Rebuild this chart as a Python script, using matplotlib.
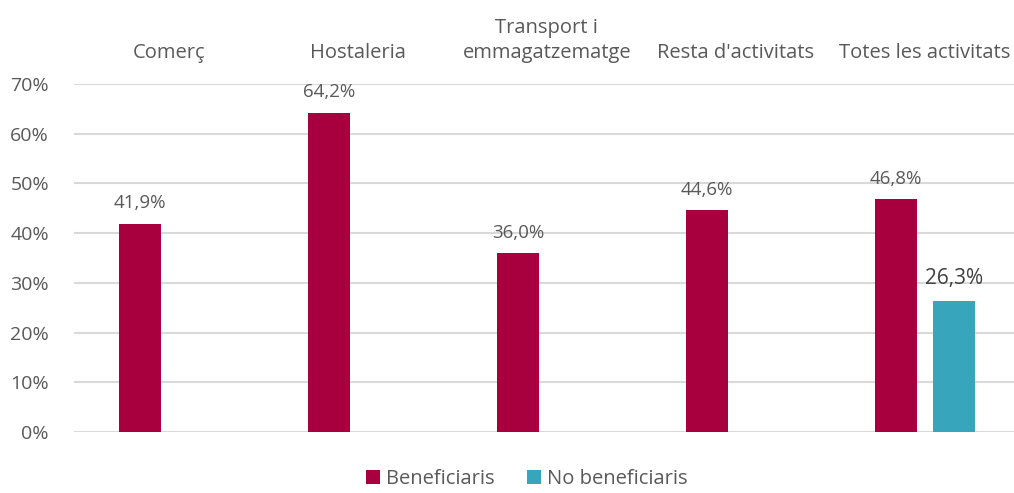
import numpy as np
import matplotlib.pyplot as plt

# Data
categories = ["Comerç", "Hostaleria", "Transport i\nemmagatzematge",
              "Resta d'activitats", "Totes les activitats"]
beneficiaris = [41.9, 64.2, 36.0, 44.6, 46.8]
no_beneficiaris = [np.nan, np.nan, np.nan, np.nan, 26.3]
yticks = [0, 10, 20, 30, 40, 50, 60, 70]

RED = '#A8003F'
TEAL = '#37A6BC'
GREY = '#595959'

plt.rcParams['font.family'] = ['Open Sans', 'DejaVu Sans']

fig = plt.figure(figsize=(10.14, 4.93), dpi=100)
ax = fig.add_axes([74 / 1014, 61 / 493, (1014 - 74) / 1014 + 0.01, (432 - 84) / 493])

x = np.arange(len(categories))
w = 0.222
off = 0.153

ax.bar(x - off, beneficiaris, w, color=RED, label='Beneficiaris', zorder=3)
ax.bar(x + off, no_beneficiaris, w, color=TEAL, label='No beneficiaris', zorder=3)

for xi, v in zip(x, beneficiaris):
    ax.text(xi - off, v + 2.3, f"{v:.1f}%".replace('.', ','), ha='center', va='bottom',
            fontsize=13.5, color=GREY)
for xi, v in zip(x, no_beneficiaris):
    if not np.isnan(v):
        ax.text(xi + off, v + 2.4, f"{v:.1f}%".replace('.', ','), ha='center', va='bottom',
                fontsize=15, color='#404040')

ax.set_xlim(-0.5, -0.5 + (1014 - 74) / 189 + 0.05)
ax.set_ylim(0, 70)
ax.set_yticks(yticks)
ax.set_yticklabels([f"{t}%" for t in yticks], fontsize=14, color=GREY)
ax.yaxis.grid(True, color='#D9D9D9', linewidth=1.5, zorder=0)
ax.tick_params(axis='y', length=0, pad=18)

ax.xaxis.tick_top()
ax.set_xticks(x)
ax.set_xticklabels(categories, fontsize=14.5, color=GREY, linespacing=1.35)
ax.tick_params(axis='x', length=0, pad=15)

for s in ax.spines.values():
    s.set_visible(False)

fig.legend(loc='lower center', bbox_to_anchor=(527 / 1014, -0.028), ncol=2, frameon=False,
           fontsize=14.5, labelcolor=GREY, handlelength=0.7, handleheight=0.7,
           handletextpad=0.3, columnspacing=1.6)

fig.savefig('out.png', dpi=100)
